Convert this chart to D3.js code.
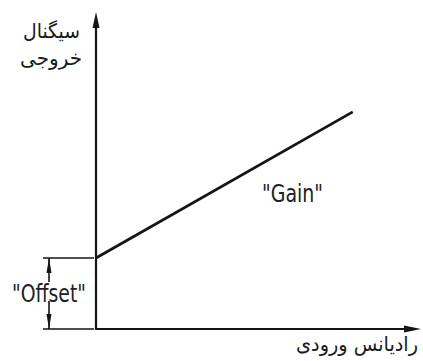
<html>
<head>
<meta charset="utf-8">
<title>Offset and Gain</title>
<style type="text/css">
    body { margin: 0; background: #fff; }
    .lbl { font-family: "DejaVu Sans Condensed", "Liberation Sans Narrow", sans-serif; fill: #222; }
    .fa { font-family: "DejaVu Sans", sans-serif; fill: #1a1a1a; }
</style>
</head>
<body>
<script src="https://d3js.org/d3.v7.min.js"></script>
<script>

    // data (arbitrary units)
    var inputRadiance = [0, 7.9];
    var outputSignal = [2.24, 6.85];
    var offsetValue = 2.24;
    var xLabel = "رادیانس ورودی";
    var yLabel = ["سیگنال", "خروجی"];
    var yLabelWidth = [57, 62];
    var gainLabel = "\"Gain\"";
    var offsetLabel = "\"Offset\"";

    var width = 423, height = 361;

    var x = d3.scaleLinear().domain([0, 10]).range([96, 421]);
    var y = d3.scaleLinear().domain([0, 10]).range([329, 12]);

    var svg = d3.select("body").append("svg")
        .attr("width", width)
        .attr("height", height);

    var ink = "#151515";

    // axes
    svg.append("line")
        .attr("x1", x(0)).attr("y1", y(0))
        .attr("x2", x(0)).attr("y2", y(10) + 12)
        .style("stroke", ink).style("stroke-width", 2.2);
    svg.append("path")
        .attr("d", "M" + (x(0) - 3.5) + "," + (y(10) + 16) + "L" + x(0) + "," + y(10) + "L" + (x(0) + 3.5) + "," + (y(10) + 16) + "Z")
        .style("fill", ink);

    svg.append("line")
        .attr("x1", x(0) - 1).attr("y1", y(0))
        .attr("x2", x(10) - 12).attr("y2", y(0))
        .style("stroke", ink).style("stroke-width", 2.2);
    svg.append("path")
        .attr("d", "M" + (x(10) - 17) + "," + (y(0) - 3.5) + "L" + x(10) + "," + y(0) + "L" + (x(10) - 17) + "," + (y(0) + 3.5) + "Z")
        .style("fill", ink);

    // response line
    var pts = inputRadiance.map(function (d, i) { return [d, outputSignal[i]]; });
    svg.append("path")
        .datum(pts)
        .attr("d", d3.line()
            .x(function (d) { return x(d[0]); })
            .y(function (d) { return y(d[1]); }))
        .style("fill", "none")
        .style("stroke", ink)
        .style("stroke-width", 2.8);

    // offset dimension
    var dimX = 49;
    svg.append("line")
        .attr("x1", 43).attr("x2", x(0) - 2)
        .attr("y1", y(offsetValue)).attr("y2", y(offsetValue))
        .style("stroke", ink).style("stroke-width", 1.6);
    svg.append("line")
        .attr("x1", 43).attr("x2", x(0) - 2)
        .attr("y1", y(0)).attr("y2", y(0))
        .style("stroke", ink).style("stroke-width", 1.6);
    svg.append("line")
        .attr("x1", dimX).attr("x2", dimX)
        .attr("y1", y(offsetValue)).attr("y2", y(offsetValue) + 24)
        .style("stroke", ink).style("stroke-width", 1.6);
    svg.append("line")
        .attr("x1", dimX).attr("x2", dimX)
        .attr("y1", y(0) - 28).attr("y2", y(0))
        .style("stroke", ink).style("stroke-width", 1.6);
    svg.append("path")
        .attr("d", "M" + (dimX - 2.5) + "," + (y(offsetValue) + 15) + "L" + dimX + "," + y(offsetValue) + "L" + (dimX + 2.5) + "," + (y(offsetValue) + 15) + "Z")
        .style("fill", ink);
    svg.append("path")
        .attr("d", "M" + (dimX - 2.5) + "," + (y(0) - 15) + "L" + dimX + "," + y(0) + "L" + (dimX + 2.5) + "," + (y(0) - 15) + "Z")
        .style("fill", ink);

    // labels
    svg.append("text")
        .attr("class", "lbl")
        .attr("x", 12).attr("y", 302)
        .attr("textLength", 74)
        .attr("lengthAdjust", "spacingAndGlyphs")
        .style("font-size", "25px")
        .text(offsetLabel);

    svg.append("text")
        .attr("class", "lbl")
        .attr("x", 262).attr("y", 202)
        .attr("textLength", 61)
        .attr("lengthAdjust", "spacingAndGlyphs")
        .style("font-size", "25px")
        .text(gainLabel);

    svg.selectAll(".ylab")
        .data(yLabel)
        .enter().append("text")
        .attr("class", "fa")
        .attr("x", function (d, i) { return (i === 0 ? 80 : 82) - yLabelWidth[i]; })
        .attr("y", function (d, i) { return 38 + i * 27; })
        .attr("textLength", function (d, i) { return yLabelWidth[i]; })
        .attr("lengthAdjust", "spacingAndGlyphs")
        .style("font-size", "20px")
        .text(function (d) { return d; });

    svg.append("text")
        .attr("class", "fa")
        .attr("x", 296).attr("y", 351)
        .attr("textLength", 122)
        .attr("lengthAdjust", "spacingAndGlyphs")
        .style("font-size", "20px")
        .text(xLabel);

</script>
</body>
</html>
